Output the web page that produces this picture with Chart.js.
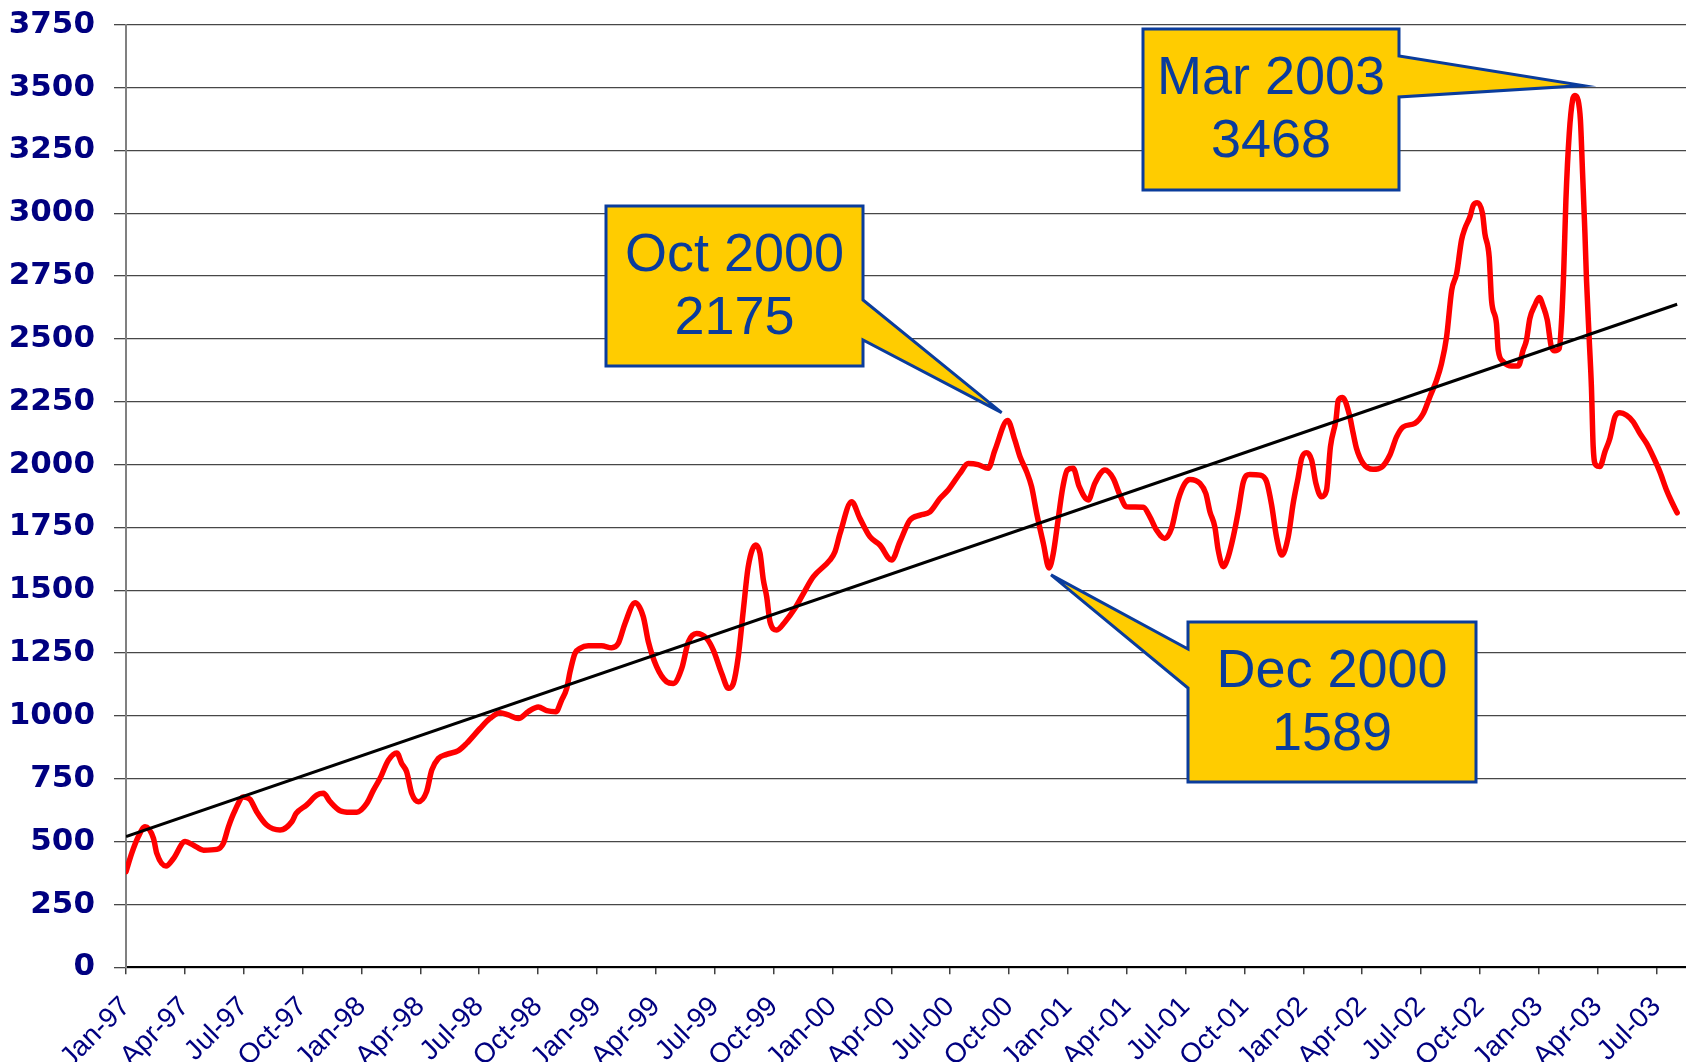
<!DOCTYPE html>
<html>
<head>
<meta charset="utf-8">
<script src="https://cdn.jsdelivr.net/npm/chart.js@4.4.1/dist/chart.umd.min.js"></script>
<style>
  html, body { margin: 0; padding: 0; background: #fff; }
  #wrap { width: 1686px; height: 1062px; }
</style>
</head>
<body>
<div id="wrap"><canvas id="chart"></canvas></div>
<script>
// ─── DATA ─────────────────────────────────────────────────
// months counted from Jan-97 (fractional)
const months = [
    0.00, 0.29, 0.63, 0.97, 1.40, 1.57, 2.04, 2.42, 3.01, 3.44, 3.95, 4.63, 4.96, 5.22, 5.56, 5.98,
    6.32, 6.66, 7.17, 7.85, 8.45, 8.67, 9.21, 9.72, 10.06, 10.40, 10.91, 11.42, 11.76, 12.27, 12.61, 12.95,
    13.37, 13.80, 14.05, 14.30, 14.56, 14.90, 15.32, 15.58, 15.92, 16.34, 16.94, 17.36, 18.04, 18.55, 19.06, 19.48,
    20.00, 20.50, 21.01, 21.44, 21.91, 22.20, 22.46, 22.63, 22.88, 23.14, 23.56, 24.24, 24.75, 25.09, 25.43, 25.94,
    26.36, 26.62, 27.04, 27.55, 27.89, 28.32, 28.66, 29.08, 29.59, 29.93, 30.36, 30.70, 30.95, 31.20, 31.46, 31.71,
    32.10, 32.31, 32.48, 32.65, 32.82, 33.16, 33.59, 34.09, 34.52, 35.03, 35.87, 36.13, 36.39, 36.98, 37.40, 37.91,
    38.42, 39.02, 39.44, 39.95, 40.47, 40.97, 41.48, 41.90, 42.50, 42.92, 43.42, 43.94, 44.28, 44.93, 45.30, 45.56,
    45.90, 46.15, 46.41, 46.75, 47.04, 47.25, 47.50, 47.73, 47.97, 48.27, 48.58, 49.04, 49.37, 49.89, 50.31, 50.65,
    50.99, 51.84, 52.18, 52.52, 52.94, 53.28, 53.62, 53.96, 54.22, 54.73, 55.03, 55.24, 55.49, 55.66, 55.92, 56.17,
    56.43, 56.68, 56.94, 57.27, 57.79, 58.13, 58.38, 58.63, 58.90, 59.23, 59.48, 59.74, 59.91, 60.16, 60.42, 60.64,
    60.92, 61.18, 61.38, 61.66, 61.78, 62.00, 62.33, 62.54, 62.71, 63.05, 63.56, 63.98, 64.41, 64.75, 65.09, 65.68,
    66.11, 66.45, 66.79, 67.04, 67.30, 67.56, 67.81, 68.06, 68.23, 68.49, 68.66, 68.86, 69.13, 69.25, 69.47, 69.59,
    69.84, 69.93, 70.19, 70.61, 70.95, 71.20, 71.37, 71.54, 71.80, 72.02, 72.23, 72.43, 72.64, 72.81, 73.04, 73.16,
    73.27, 73.38, 73.55, 73.72, 73.84, 74.00, 74.12, 74.23, 74.35, 74.43, 74.57, 74.68, 74.77, 74.91, 75.11, 75.37,
    75.62, 75.88, 76.13, 76.47, 76.81, 77.15, 77.49, 77.83, 78.17, 78.51, 78.77, 79.05
];
const prices = [
    380, 453, 520, 559, 513, 453, 403, 433, 500, 486, 466, 469, 493, 559, 625, 678,
    668, 619, 566, 546, 579, 612, 646, 685, 692, 659, 623, 617, 617, 652, 705, 752,
    824, 853, 811, 778, 692, 659, 699, 784, 831, 847, 862, 891, 950, 990, 1013, 1004,
    990, 1017, 1036, 1021, 1017, 1063, 1110, 1176, 1249, 1269, 1279, 1279, 1271, 1289, 1368, 1450,
    1395, 1295, 1196, 1136, 1129, 1189, 1295, 1328, 1308, 1262, 1169, 1110, 1129, 1235, 1421, 1594,
    1680, 1647, 1541, 1474, 1375, 1342, 1375, 1428, 1487, 1554, 1620, 1653, 1726, 1852, 1786, 1713,
    1680, 1620, 1693, 1779, 1799, 1812, 1865, 1899, 1965, 2004, 2000, 1985, 2057, 2175, 2097, 2031,
    1971, 1912, 1806, 1686, 1589, 1644, 1780, 1905, 1978, 1985, 1912, 1859, 1925, 1978, 1945, 1879,
    1832, 1830, 1792, 1739, 1706, 1746, 1859, 1925, 1941, 1925, 1885, 1812, 1752, 1660, 1594, 1633,
    1713, 1812, 1931, 1961, 1958, 1931, 1840, 1713, 1640, 1713, 1845, 1951, 2024, 2047, 2018, 1925,
    1872, 1898, 2071, 2177, 2256, 2267, 2203, 2124, 2064, 2004, 1981, 1989, 2038, 2110, 2150, 2164,
    2203, 2270, 2336, 2402, 2508, 2694, 2760, 2893, 2939, 2986, 3032, 3042, 2999, 2919, 2826, 2654,
    2561, 2455, 2409, 2392, 2392, 2455, 2495, 2581, 2634, 2665, 2628, 2575, 2468, 2453, 2462, 2575,
    2774, 3052, 3317, 3450, 3468, 3450, 3370, 3158, 2919, 2734, 2495, 2309, 2071, 1998, 1992, 2051,
    2104, 2190, 2206, 2196, 2170, 2124, 2084, 2031, 1971, 1898, 1852, 1808
];
const tickLabels = [
    'Jan-97', 'Apr-97', 'Jul-97', 'Oct-97', 'Jan-98', 'Apr-98', 'Jul-98', 'Oct-98',
    'Jan-99', 'Apr-99', 'Jul-99', 'Oct-99', 'Jan-00', 'Apr-00', 'Jul-00', 'Oct-00',
    'Jan-01', 'Apr-01', 'Jul-01', 'Oct-01', 'Jan-02', 'Apr-02', 'Jul-02', 'Oct-02',
    'Jan-03', 'Apr-03', 'Jul-03'
];
// linear trend: value at first and last month
const trendMonths = [0, 79.05];
const trendValues = [520, 2638];

// callout labels and the point each one marks
const calloutTitles = ['Oct 2000', 'Dec 2000', 'Mar 2003'];
const calloutMonths = [44.93, 47.04, 73.84];
const calloutValues = [2175, 1589, 3468];

// ─── CALLOUT LAYOUT (pixels) ──────────────────────────────
const calloutBoxes = [
    { x: 606, y: 206, w: 257, h: 160, side: 'right', a: 94, b: 134, dx: -6, dy: -8 },
    { x: 1188, y: 622, w: 288, h: 160, side: 'left', a: 27, b: 66, dx: 2, dy: 7 },
    { x: 1143, y: 29, w: 256, h: 161, side: 'right', a: 27, b: 68, dx: 8, dy: -10 },
];

const calloutPlugin = {
    id: 'callouts',
    afterDraw(chart) {
        const { ctx, scales } = chart;
        ctx.save();
        calloutBoxes.forEach((b, i) => {
            const tx = scales.x.getPixelForValue(calloutMonths[i]) + b.dx;
            const ty = scales.y.getPixelForValue(calloutValues[i]) + b.dy;
            ctx.beginPath();
            if (b.side === 'right') {
                ctx.moveTo(b.x, b.y);
                ctx.lineTo(b.x + b.w, b.y);
                ctx.lineTo(b.x + b.w, b.y + b.a);
                ctx.lineTo(tx, ty);
                ctx.lineTo(b.x + b.w, b.y + b.b);
                ctx.lineTo(b.x + b.w, b.y + b.h);
                ctx.lineTo(b.x, b.y + b.h);
            } else {
                ctx.moveTo(b.x, b.y);
                ctx.lineTo(b.x + b.w, b.y);
                ctx.lineTo(b.x + b.w, b.y + b.h);
                ctx.lineTo(b.x, b.y + b.h);
                ctx.lineTo(b.x, b.y + b.b);
                ctx.lineTo(tx, ty);
                ctx.lineTo(b.x, b.y + b.a);
            }
            ctx.closePath();
            ctx.fillStyle = '#FFCC00';
            ctx.fill();
            ctx.lineWidth = 3;
            ctx.strokeStyle = '#0A3C9C';
            ctx.stroke();

            ctx.fillStyle = '#0A3C9C';
            ctx.font = '54px "Liberation Sans", Arial, sans-serif';
            ctx.textAlign = 'center';
            ctx.textBaseline = 'middle';
            const cx = b.x + b.w / 2;
            ctx.fillText(calloutTitles[i], cx, b.y + 50);
            ctx.fillText(String(calloutValues[i]), cx, b.y + 113);
        });
        ctx.restore();
    }
};

// drop the label overflow padding chart.js adds so the plot area is fixed
function noPad(s) {
    s.paddingLeft = 0; s.paddingRight = 0; s.paddingTop = 0; s.paddingBottom = 0;
}

// ─── CHART ────────────────────────────────────────────────
new Chart(document.getElementById('chart'), {
    type: 'line',
    data: {
        datasets: [
            {
                data: trendMonths.map((m, i) => ({ x: m, y: trendValues[i] })),
                borderColor: '#000000', borderWidth: 3,
                pointRadius: 0, order: 0,
            },
            {
                data: months.map((m, i) => ({ x: m, y: prices[i] })),
                borderColor: '#FF0000', borderWidth: 5.5,
                borderCapStyle: 'round', borderJoinStyle: 'round',
                cubicInterpolationMode: 'monotone',
                pointRadius: 0, order: 1,
            }
        ]
    },
    options: {
        responsive: true, maintainAspectRatio: false, animation: false,
        devicePixelRatio: 1,
        layout: { padding: { top: 24.7, right: 0, bottom: 0, left: 0 } },
        plugins: { legend: { display: false }, tooltip: { enabled: false } },
        scales: {
            x: {
                type: 'linear', min: 0, max: 79.5,
                ticks: {
                    stepSize: 3, autoSkip: false, includeBounds: false,
                    minRotation: 45, maxRotation: 45, padding: 16,
                    color: '#000080',
                    font: { family: 'Liberation Sans', size: 28 },
                    callback: v => tickLabels[v / 3] ?? '',
                },
                grid: { drawOnChartArea: false, tickLength: 7, color: '#404040', lineWidth: 1.5 },
                border: { color: '#000000', width: 2 },
                afterFit: s => { s.height = 94.7; noPad(s); },
            },
            y: {
                min: 0, max: 3750,
                ticks: {
                    stepSize: 250, padding: 19, color: '#000080',
                    font: { family: 'DejaVu Sans', size: 31, weight: 'bold' },
                    callback: v => String(v),
                },
                grid: { color: '#474747', lineWidth: 1.3, tickLength: 12 },
                border: { color: '#808080', width: 2 },
                afterFit: s => { s.width = 126; noPad(s); },
            }
        }
    },
    plugins: [calloutPlugin]
});
</script>
</body>
</html>
